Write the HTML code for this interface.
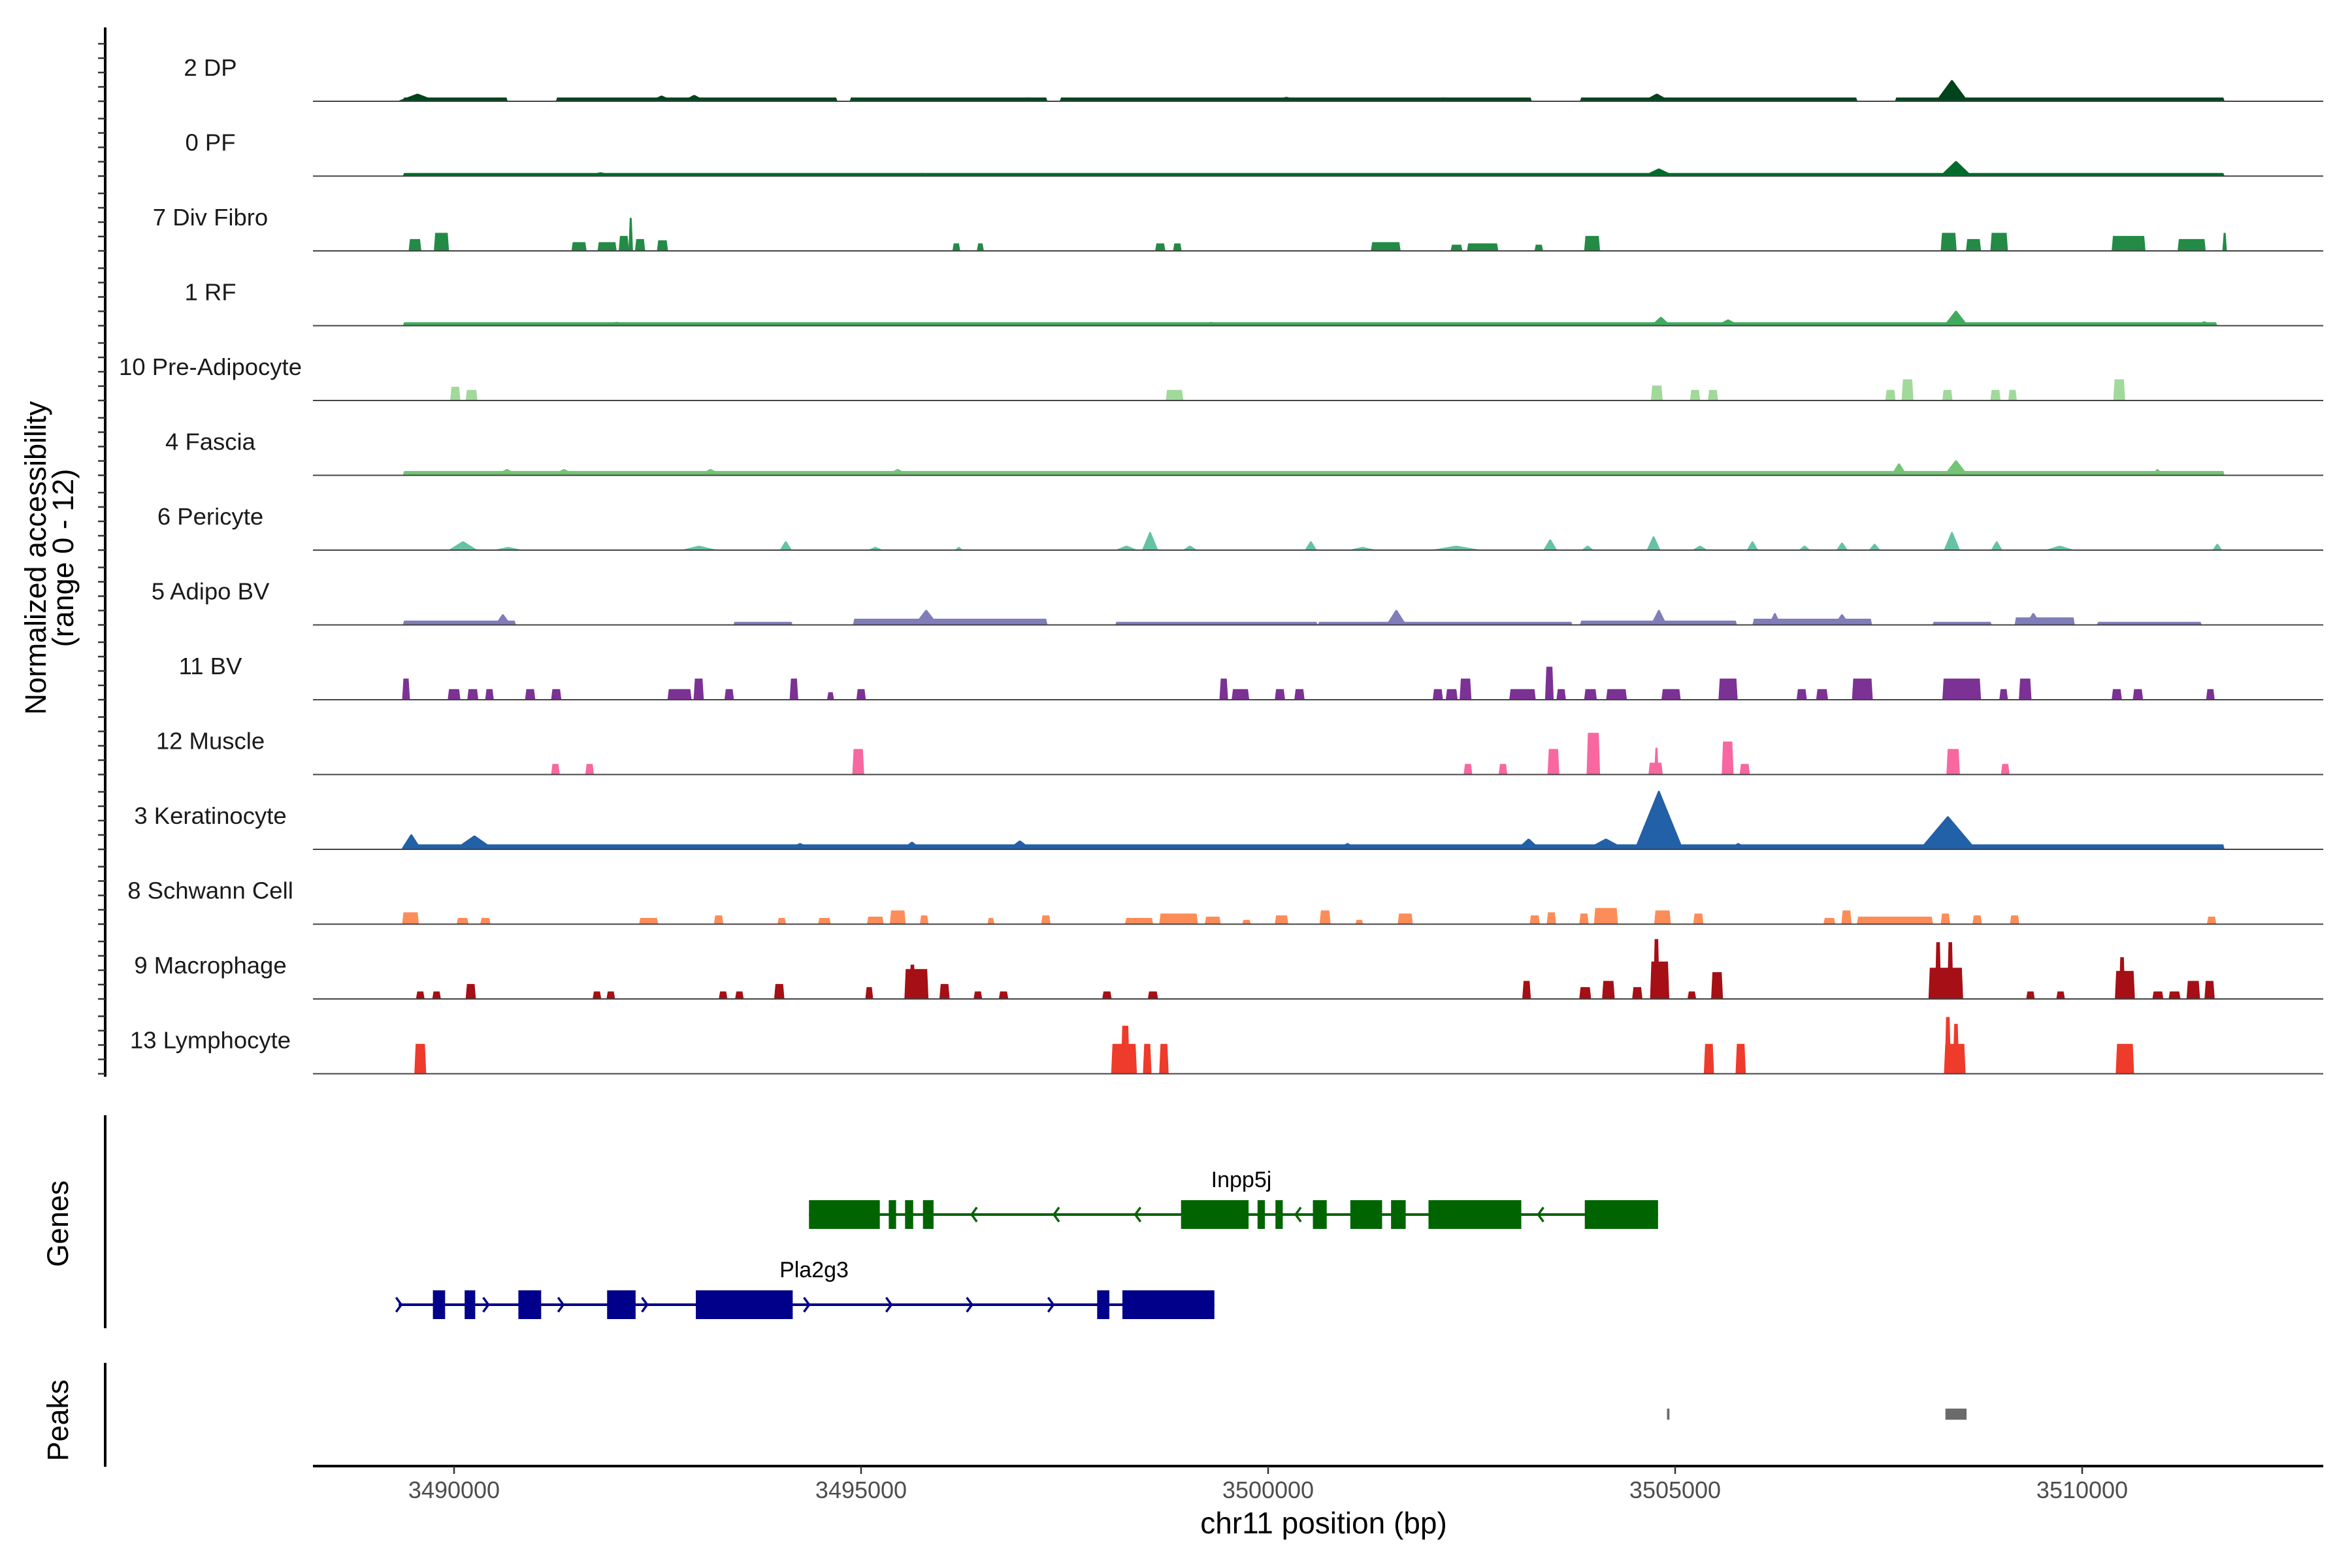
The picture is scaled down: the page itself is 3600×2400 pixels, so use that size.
<!DOCTYPE html>
<html><head><meta charset="utf-8">
<style>
html,body{margin:0;padding:0;background:#fff;}
svg{display:block;}
text{font-family:"Liberation Sans",sans-serif;}
</style></head>
<body>
<svg id="chart" width="3600" height="2400" viewBox="0 0 3600 2400" xmlns="http://www.w3.org/2000/svg"></svg>
<script>
// ---- data (positions in kb, heights in normalized accessibility units 0-12) ----
const trackNames = ["2 DP","0 PF","7 Div Fibro","1 RF","10 Pre-Adipocyte","4 Fascia","6 Pericyte","5 Adipo BV","11 BV","12 Muscle","3 Keratinocyte","8 Schwann Cell","9 Macrophage","13 Lymphocyte"];
const trackColors = ["#00441b","#006d2c","#238b45","#41ab5d","#a1d99b","#74c476","#66c2a4","#807dba","#7b3294","#f768a1","#2260a8","#fc8d59","#a50f15","#ef3b2c"];
const xTicks = [3490000,3495000,3500000,3505000,3510000];

const dpBands = [[3489.37,3490.66,0.6],[3491.25,3494.71,0.6],[3494.86,3497.29,0.6],[3497.44,3503.24,0.6],[3503.83,3507.24,0.6],[3507.70,3511.75,0.6]];
const dpPeaks = [[3489.30,3489.80,1.2],[3492.40,3492.70,0.9],[3492.80,3493.10,1.0],[3496.9,3497.2,0.6],[3500.05,3500.4,0.7],[3502.0,3502.3,0.6],[3504.6,3504.95,1.2],[3508.2,3508.6,3.4]];
const pfBands = [[3489.37,3511.75,0.5]];
const pfPeaks = [[3491.6,3492.0,0.6],[3495.6,3495.9,0.5],[3504.6,3505.0,1.2],[3508.25,3508.65,2.4]];
const divFibroBlocks = [[3489.45,3489.59,1.9],[3489.76,3489.93,2.9],[3491.45,3491.62,1.4],[3491.77,3491.99,1.4],[3492.03,3492.14,2.4],[3492.15,3492.19,5.3],[3492.23,3492.34,1.9],[3492.50,3492.62,1.7],[3496.13,3496.21,1.2],[3496.43,3496.50,1.2],[3498.62,3498.73,1.2],[3498.84,3498.93,1.2],[3501.27,3501.62,1.4],[3502.25,3502.38,1.0],[3502.45,3502.82,1.2],[3503.28,3503.37,1.0],[3503.89,3504.07,2.4],[3508.27,3508.45,2.9],[3508.58,3508.75,1.9],[3508.88,3509.08,2.9],[3510.37,3510.77,2.4],[3511.18,3511.51,1.9],[3511.73,3511.77,2.9]];
const rfBands = [[3489.37,3511.66,0.55]];
const rfPeaks = [[3491.8,3492.2,0.6],[3499.2,3499.4,0.6],[3504.7,3504.95,1.4],[3505.5,3505.8,1.0],[3508.3,3508.6,2.4],[3511.4,3511.6,0.7]];
const preAdBlocks = [[3489.96,3490.07,2.2],[3490.15,3490.28,1.7],[3498.75,3498.95,1.7],[3504.71,3504.84,2.4],[3505.19,3505.30,1.7],[3505.41,3505.52,1.7],[3507.59,3507.70,1.7],[3507.79,3507.92,3.4],[3508.29,3508.40,1.7],[3508.88,3508.99,1.7],[3509.10,3509.19,1.7],[3510.39,3510.52,3.4]];
const fasciaBands = [[3489.37,3511.75,0.7]];
const fasciaPeaks = [[3490.5,3490.8,1.0],[3491.2,3491.5,1.0],[3493.0,3493.3,1.0],[3495.3,3495.6,1.0],[3507.65,3507.85,1.9],[3508.3,3508.6,2.4],[3510.85,3511.0,1.0]];
const pericytePeaks = [[3489.93,3490.29,1.4],[3490.48,3490.85,0.5],[3492.78,3493.24,0.7],[3494.0,3494.15,1.4],[3495.08,3495.27,0.5],[3496.15,3496.25,0.5],[3498.12,3498.40,0.7],[3498.45,3498.65,2.9],[3498.95,3499.13,0.7],[3500.45,3500.6,1.4],[3500.98,3501.34,0.5],[3501.99,3502.63,0.7],[3503.38,3503.55,1.7],[3503.85,3504.0,0.7],[3504.65,3504.82,2.2],[3505.21,3505.40,0.7],[3505.88,3506.02,1.4],[3506.52,3506.66,0.7],[3506.98,3507.12,1.2],[3507.38,3507.52,1.0],[3508.3,3508.5,2.9],[3508.88,3509.02,1.4],[3509.54,3509.91,0.7],[3511.6,3511.72,1.0]];
const adipoBvBands = [[3489.37,3490.76,0.7],[3493.43,3494.16,0.5],[3494.90,3497.29,1.0],[3498.12,3500.61,0.5],[3500.61,3503.74,0.5],[3503.83,3505.76,0.7],[3505.95,3507.42,1.0],[3508.16,3508.89,0.5],[3509.17,3509.91,1.2],[3510.18,3511.47,0.5]];
const adipoBvPeaks = [[3490.5,3490.7,1.7],[3495.65,3495.95,2.4],[3501.45,3501.7,2.4],[3504.7,3504.9,2.4],[3506.15,3506.3,1.9],[3506.95,3507.15,1.7],[3509.3,3509.5,1.9]];
const bvBlocks = [[3489.37,3489.45,3.4],[3489.93,3490.07,1.7],[3490.17,3490.29,1.7],[3490.39,3490.48,1.7],[3490.88,3490.99,1.7],[3491.20,3491.31,1.7],[3492.63,3492.91,1.7],[3492.95,3493.06,3.4],[3493.33,3493.43,1.7],[3494.13,3494.22,3.4],[3494.59,3494.66,1.2],[3494.95,3495.05,1.7],[3499.41,3499.50,3.4],[3499.56,3499.76,1.7],[3500.09,3500.20,1.7],[3500.33,3500.44,1.7],[3502.03,3502.14,1.7],[3502.19,3502.32,1.7],[3502.36,3502.49,3.4],[3502.97,3503.28,1.7],[3503.41,3503.50,5.3],[3503.55,3503.65,1.7],[3503.89,3504.03,1.7],[3504.16,3504.40,1.7],[3504.84,3505.06,1.7],[3505.54,3505.76,3.4],[3506.50,3506.61,1.7],[3506.74,3506.87,1.7],[3507.18,3507.42,3.4],[3508.29,3508.75,3.4],[3508.99,3509.08,1.7],[3509.23,3509.37,3.4],[3510.37,3510.48,1.7],[3510.63,3510.74,1.7],[3511.53,3511.62,1.7]];
const muscleBlocks = [[3491.20,3491.29,1.7],[3491.62,3491.71,1.7],[3494.90,3495.03,4.1],[3502.41,3502.50,1.7],[3502.84,3502.93,1.7],[3503.44,3503.57,4.1],[3503.92,3504.07,6.7],[3504.68,3504.84,1.9],[3504.75,3504.79,4.3],[3505.58,3505.71,5.3],[3505.80,3505.91,1.7],[3508.34,3508.49,4.1],[3509.01,3509.10,1.7]];
const keratBands = [[3489.37,3511.75,0.8]];
const keratPeaks = [[3489.35,3489.6,2.4],[3490.0,3490.5,2.2],[3494.1,3494.4,1.0],[3495.5,3495.75,1.2],[3496.8,3497.1,1.4],[3500.85,3501.1,1.0],[3503.05,3503.35,1.7],[3503.9,3504.4,1.7],[3504.5,3505.1,9.4],[3505.65,3505.9,1.0],[3508.0,3508.7,5.3]];
const schwannBlocks = [[3489.37,3489.56,1.9],[3490.04,3490.17,1.0],[3490.33,3490.44,1.0],[3492.28,3492.50,1.0],[3493.20,3493.30,1.4],[3493.98,3494.07,1.0],[3494.48,3494.62,1.0],[3495.08,3495.27,1.2],[3495.36,3495.54,2.2],[3495.73,3495.82,1.4],[3496.56,3496.63,1.0],[3497.22,3497.32,1.4],[3498.25,3498.58,1.0],[3498.67,3499.13,1.7],[3499.23,3499.41,1.2],[3499.69,3499.78,0.7],[3500.09,3500.24,1.4],[3500.64,3500.76,2.2],[3501.08,3501.16,0.7],[3501.60,3501.77,1.7],[3503.22,3503.33,1.4],[3503.43,3503.53,1.9],[3503.83,3503.93,1.7],[3504.01,3504.29,2.6],[3504.75,3504.94,2.2],[3505.23,3505.34,1.7],[3506.83,3506.96,1.0],[3507.05,3507.16,2.2],[3507.24,3508.16,1.2],[3508.27,3508.37,1.7],[3508.66,3508.76,1.4],[3509.12,3509.22,1.4],[3511.54,3511.64,1.2]];
const macroBlocks = [[3489.54,3489.63,1.2],[3489.74,3489.83,1.2],[3490.15,3490.26,2.4],[3491.71,3491.80,1.2],[3491.88,3491.97,1.2],[3493.26,3493.35,1.2],[3493.46,3493.55,1.2],[3493.94,3494.05,2.4],[3495.06,3495.14,1.9],[3495.54,3495.82,4.8],[3495.60,3495.66,5.5],[3495.97,3496.08,2.4],[3496.39,3496.48,1.2],[3496.70,3496.80,1.2],[3497.97,3498.07,1.2],[3498.53,3498.64,1.2],[3503.13,3503.22,2.9],[3503.83,3503.96,1.9],[3504.11,3504.25,2.9],[3504.48,3504.59,1.9],[3504.70,3504.92,6.0],[3504.74,3504.80,9.6],[3505.16,3505.25,1.2],[3505.45,3505.58,4.3],[3508.12,3508.53,5.0],[3508.20,3508.26,9.1],[3508.35,3508.41,9.1],[3509.32,3509.41,1.2],[3509.69,3509.78,1.2],[3510.41,3510.64,4.5],[3510.46,3510.52,6.7],[3510.87,3510.99,1.2],[3511.07,3511.20,1.2],[3511.29,3511.44,2.9],[3511.51,3511.62,2.9]];
const lymphoBlocks = [[3489.52,3489.65,4.8],[3498.08,3498.38,4.8],[3498.20,3498.29,7.7],[3498.47,3498.56,4.8],[3498.67,3498.77,4.8],[3505.36,3505.47,4.8],[3505.75,3505.86,4.8],[3508.31,3508.56,4.8],[3508.32,3508.38,9.1],[3508.42,3508.48,8.0],[3510.42,3510.63,4.8]];

const inpp5jExons = [[3494.36,3495.23],[3495.34,3495.43],[3495.54,3495.64],[3495.76,3495.89],[3498.93,3499.76],[3499.87,3499.96],[3500.09,3500.18],[3500.55,3500.72],[3501.01,3501.40],[3501.51,3501.69],[3501.97,3503.11],[3503.89,3504.79]];
const inpp5jArrows = [3496.39,3497.40,3498.40,3500.37,3503.35];
const pla2g3Span = [3489.32,3499.34];
const pla2g3Exons = [[3489.74,3489.89],[3490.13,3490.26],[3490.79,3491.07],[3491.88,3492.23],[3492.97,3494.16],[3497.90,3498.05],[3498.21,3499.34]];
const pla2g3Arrows = [3489.32,3490.39,3491.31,3492.34,3494.33,3495.34,3496.33,3497.33];
const peakRegions = [[3504.90,3504.93],[3508.32,3508.58]];

// ---- layout ----
const NS="http://www.w3.org/2000/svg";
const svg=document.getElementById('chart');
const X0=695, PXPERKB=124.6, XRIGHT=3556;
function xs(kb){return X0+(kb-3490)*PXPERKB;}
const BASE0=155, STEP=114.5, UNIT=9.54;
function ys(i,v){return BASE0+i*STEP - v*UNIT;}
function mk(tag,attrs,parent){const e=document.createElementNS(NS,tag);for(const k in attrs)e.setAttribute(k,attrs[k]);(parent||svg).appendChild(e);return e;}

const trackBands=[dpBands,pfBands,[],rfBands,[],fasciaBands,[],adipoBvBands,[],[],keratBands,[],[],[]];
const trackPeaks=[dpPeaks,pfPeaks,[],rfPeaks,[],fasciaPeaks,pericytePeaks,adipoBvPeaks,[],[],keratPeaks,[],[],[]];
const trackBlocks=[[],[],divFibroBlocks,[],preAdBlocks,[],[],[],bvBlocks,muscleBlocks,[],schwannBlocks,macroBlocks,lymphoBlocks];

// left y axis
const yAxis=mk('line',{x1:161,y1:42,x2:161,y2:1648,stroke:'#000','stroke-width':4});


for(let i=0;i<trackNames.length;i++){
  for(let k=0;k<=4;k++){
    const ty=BASE0+i*STEP-k*22;
    const t=mk('line',{x1:150,y1:ty,x2:161,y2:ty,stroke:'#333','stroke-width':2.5});
    
    
  }
}
const yt=mk('text',{transform:'translate(70,854) rotate(-90)','text-anchor':'middle','font-size':45,fill:'#000'});
yt.textContent='Normalized accessibility';


const yt2=mk('text',{transform:'translate(112,854) rotate(-90)','text-anchor':'middle','font-size':45,fill:'#000'});
yt2.textContent='(range 0 - 12)';



for(let i=0;i<trackNames.length;i++){
  const g=mk('g',{fill:trackColors[i]});
  
  
  const base=BASE0+i*STEP;
  trackBands[i].forEach(b=>{
    const p=mk('polygon',{points:`${xs(b[0])},${base} ${xs(b[0])+2},${ys(i,b[2])} ${xs(b[1])-2},${ys(i,b[2])} ${xs(b[1])},${base}`},g);
    
    
  });
  trackPeaks[i].forEach(b=>{
    const m=(b[0]+b[1])/2;
    const p=mk('polygon',{points:`${xs(b[0])},${base} ${xs(m)-1},${ys(i,b[2])} ${xs(m)+1},${ys(i,b[2])} ${xs(b[1])},${base}`},g);
    
    
  });
  trackBlocks[i].forEach(b=>{
    const p=mk('polygon',{points:`${xs(b[0])-1},${base} ${xs(b[0])+1},${ys(i,b[2])} ${xs(b[1])-1},${ys(i,b[2])} ${xs(b[1])+1},${base}`},g);
    
    
  });
  const bl=mk('line',{x1:479,y1:base,x2:XRIGHT,y2:base,stroke:'#444','stroke-width':2});
  
  
  const lab=mk('text',{x:322,y:base-39,'text-anchor':'middle','font-size':36.5,fill:'#1a1a1a'});
  lab.textContent=trackNames[i];
  
  
}

// genes panel
const gAx=mk('line',{x1:161,y1:1707,x2:161,y2:2033,stroke:'#000','stroke-width':4});


const gT=mk('text',{transform:'translate(104,1873) rotate(-90)','text-anchor':'middle','font-size':45,fill:'#000'});
gT.textContent='Genes';



function drawGene(name,exons,arrows,span,yc,color,dir,lx,ly){
  const g=mk('g',{});
  
  
  const ln=mk('line',{x1:xs(span[0]),y1:yc,x2:xs(span[1]),y2:yc,stroke:color,'stroke-width':4},g);
  
  
  arrows.forEach(a=>{
    const ax=xs(a);
    const pth=mk('polyline',{points:dir>0?`${ax-4},${yc-11} ${ax+4},${yc} ${ax-4},${yc+11}`:`${ax+4},${yc-11} ${ax-4},${yc} ${ax+4},${yc+11}`,fill:'none',stroke:color,'stroke-width':3.5},g);
    
    
  });
  exons.forEach(e=>{
    const r=mk('rect',{x:xs(e[0]),y:yc-22,width:xs(e[1])-xs(e[0]),height:44,fill:color},g);
    
    
  });
  const t=mk('text',{x:lx,y:ly,'text-anchor':'middle','font-size':34,fill:'#000'},g);
  t.textContent=name;
  
  
}
drawGene('Inpp5j',inpp5jExons,inpp5jArrows,[inpp5jExons[0][0],inpp5jExons[inpp5jExons.length-1][1]],1859,'#006400',-1,1900,1817);
drawGene('Pla2g3',pla2g3Exons,pla2g3Arrows,pla2g3Span,1997,'#00008b',1,1246,1955);

// peaks panel
const pAx=mk('line',{x1:161,y1:2086,x2:161,y2:2245,stroke:'#000','stroke-width':4});


const pT=mk('text',{transform:'translate(104,2174) rotate(-90)','text-anchor':'middle','font-size':45,fill:'#000'});
pT.textContent='Peaks';


peakRegions.forEach(p=>{
  const w=Math.max(3,xs(p[1])-xs(p[0]));
  const r=mk('rect',{x:xs(p[0]),y:2156,width:w,height:17,fill:'#6b6b6b'});
  
  
});

// x axis
const xAx=mk('line',{x1:479,y1:2244,x2:XRIGHT,y2:2244,stroke:'#000','stroke-width':4});


xTicks.forEach(t=>{
  const x=xs(t/1000);
  const tk=mk('line',{x1:x,y1:2244,x2:x,y2:2256,stroke:'#333','stroke-width':2.5});
  
  
  const tl=mk('text',{x:x,y:2293,'text-anchor':'middle','font-size':36,fill:'#4d4d4d'});
  tl.textContent=String(t);
  
  
});
const xt=mk('text',{x:2026,y:2347,'text-anchor':'middle','font-size':46,fill:'#000'});
xt.textContent='chr11 position (bp)';


</script>
</body></html>
